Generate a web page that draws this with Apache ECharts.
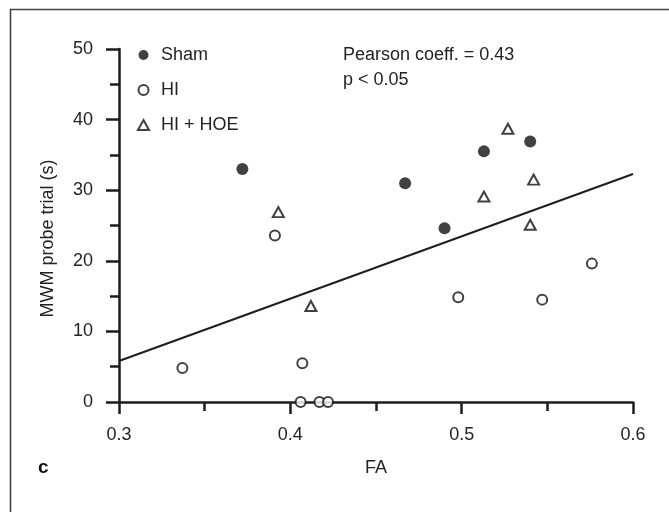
<!DOCTYPE html>
<html>
<head>
<meta charset="utf-8">
<script src="https://cdn.jsdelivr.net/npm/echarts@6/dist/echarts.min.js"></script>
<style>
html,body{margin:0;padding:0;background:#fff;}
#main{width:669px;height:512px;}
</style>
</head>
<body>
<div id="main"></div>
<script>
// ---- data ----
const shamX = [0.372, 0.467, 0.490, 0.513, 0.540];
const shamY = [33.0, 31.0, 24.6, 35.5, 36.9];

const hiX = [0.337, 0.391, 0.407, 0.406, 0.417, 0.422, 0.498, 0.547, 0.576];
const hiY = [4.8, 23.6, 5.5, 0, 0, 0, 14.85, 14.5, 19.6];

const hoeX = [0.393, 0.412, 0.513, 0.527, 0.540, 0.542];
const hoeY = [26.9, 13.6, 29.1, 38.7, 25.1, 31.5];

const fitX = [0.3, 0.6];
const fitY = [5.8, 32.3];

const seriesNames = ['Sham', 'HI', 'HI + HOE'];
const xTicks = [0.3, 0.4, 0.5, 0.6];
const yTicks = [0, 10, 20, 30, 40, 50];
const statLines = ['Pearson coeff. = 0.43', 'p < 0.05'];
const xTitle = 'FA';
const yTitle = 'MWM probe trial (s)';
const panelLabel = 'c';

const zip = (xs, ys) => xs.map((x, i) => [x, ys[i]]);

const FONT = '"Liberation Sans", Arial, sans-serif';
const INK = '#1e1e1e';
const TXT = '#232323';

const chart = echarts.init(document.getElementById('main'), null, {renderer: 'canvas'});

chart.setOption({
  backgroundColor: '#fff',
  animation: false,
  textStyle: {fontFamily: FONT},
  grid: {left: 119, right: 36, top: 49, bottom: 110, containLabel: false},
  xAxis: {
    type: 'value',
    min: xTicks[0], max: xTicks[xTicks.length - 1], interval: 0.1,
    name: xTitle, nameLocation: 'middle', nameGap: 57,
    nameTextStyle: {fontSize: 18, color: TXT, fontFamily: FONT},
    axisLine: {show: true, onZero: false, lineStyle: {color: INK, width: 2.5}},
    axisTick: {show: true, length: 12, lineStyle: {color: INK, width: 2.5}},
    minorTick: {show: true, splitNumber: 2, length: 9, lineStyle: {color: INK, width: 2.5}},
    splitLine: {show: false},
    axisLabel: {fontSize: 18, color: TXT, margin: 24, fontFamily: FONT,
      formatter: v => v.toFixed(1)}
  },
  yAxis: {
    type: 'value',
    min: yTicks[0], max: yTicks[yTicks.length - 1], interval: 10,
    name: yTitle, nameLocation: 'middle', nameGap: 62, nameRotate: 90,
    nameTextStyle: {fontSize: 18, color: TXT, fontFamily: FONT, padding: [0, 26, 0, 0]},
    axisLine: {show: true, onZero: false, lineStyle: {color: INK, width: 2.5}},
    axisTick: {show: true, length: 13, lineStyle: {color: INK, width: 2.5}},
    minorTick: {show: true, splitNumber: 2, length: 9, lineStyle: {color: INK, width: 2.5}},
    splitLine: {show: false},
    axisLabel: {fontSize: 18, color: TXT, margin: 26, fontFamily: FONT}
  },
  legend: {
    orient: 'vertical',
    left: 132, top: 41,
    itemWidth: 11, itemHeight: 10, itemGap: 17,
    textStyle: {fontSize: 18, color: TXT, fontFamily: FONT, padding: [0, 0, 0, 7]},
    data: seriesNames
  },
  graphic: [
    {type: 'rect', left: 8, top: 7, z: 0, silent: true,
      shape: {width: 720, height: 600},
      style: {fill: 'none', stroke: '#444', lineWidth: 1.6}},
    {type: 'text', left: 343, top: 43, z: 10,
      style: {text: statLines.join('\n'), fontSize: 18, lineHeight: 25, fill: TXT, font: '18px ' + FONT}},
    {type: 'text', left: 38, top: 458, z: 10,
      style: {text: panelLabel, fill: '#111', font: 'bold 19px ' + FONT}}
  ],
  series: [
    {
      name: 'fit', type: 'line', data: zip(fitX, fitY),
      showSymbol: false, symbol: 'none', silent: true,
      lineStyle: {color: INK, width: 2}, z: 2
    },
    {
      name: seriesNames[0], type: 'scatter', data: zip(shamX, shamY),
      symbol: 'circle', symbolSize: 12, clip: false,
      itemStyle: {color: '#111', borderWidth: 0}, z: 5
    },
    {
      name: seriesNames[1], type: 'scatter', data: zip(hiX, hiY),
      symbol: 'circle', symbolSize: 10, clip: false,
      itemStyle: {color: '#fff', borderColor: '#111', borderWidth: 2}, z: 5
    },
    {
      name: seriesNames[2], type: 'scatter', data: zip(hoeX, hoeY),
      symbol: 'triangle', symbolSize: [11, 10], clip: false,
      itemStyle: {color: '#fff', borderColor: '#111', borderWidth: 2}, z: 5
    }
  ]
});
</script>
</body>
</html>
